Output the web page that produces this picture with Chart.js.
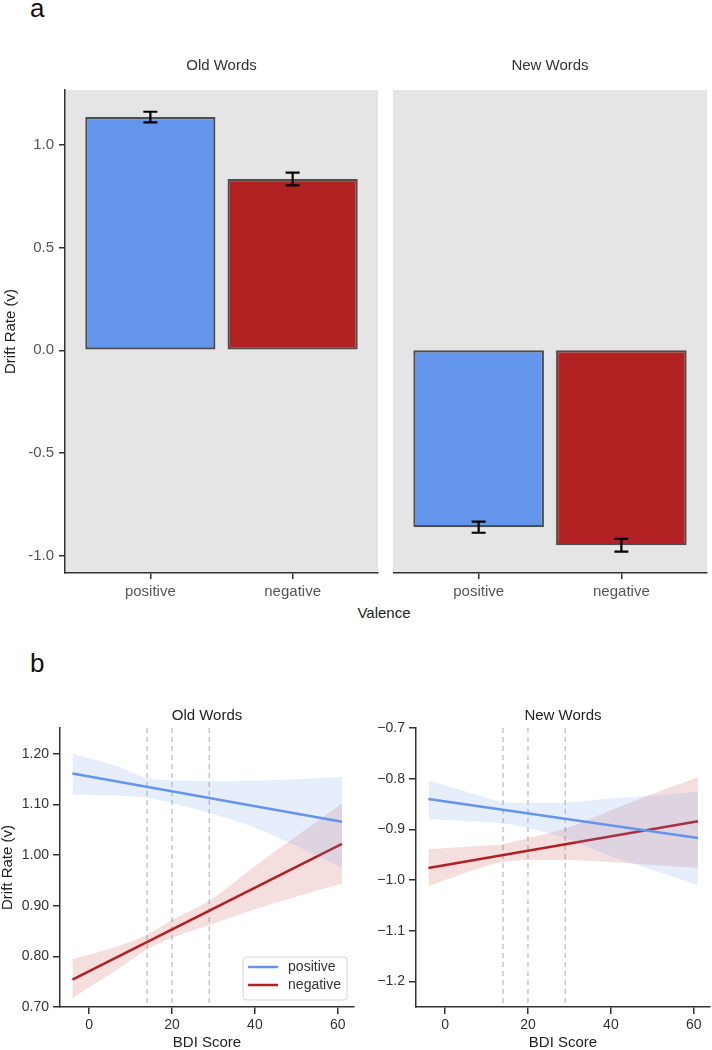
<!DOCTYPE html>
<html>
<head>
<meta charset="utf-8">
<script src="https://cdn.jsdelivr.net/npm/chart.js@4.4.1/dist/chart.umd.min.js"></script>
<style>
  body { margin: 0; background: #fff; width: 712px; height: 1050px; position: relative; overflow: hidden;
         font-family: "Liberation Sans", Arial, sans-serif; }
  .box { position: absolute; }
  .lbl { position: absolute; color: #111; white-space: nowrap; }
</style>
</head>
<body>
<div class="lbl" style="left:30px;top:-7px;font-size:26px;line-height:30px">a</div>
<div class="lbl" style="left:30px;top:648px;font-size:26px;line-height:30px">b</div>
<div class="lbl" style="left:334px;top:604px;width:100px;text-align:center;font-size:15px;line-height:18px;color:#222">Valence</div>

<div class="box" style="left:0;top:57px"><canvas id="oldBars" width="380" height="546"></canvas></div>
<div class="box" style="left:393px;top:57px"><canvas id="newBars" width="316" height="546"></canvas></div>
<div class="box" style="left:0;top:707px"><canvas id="oldBdi" width="360" height="343"></canvas></div>
<div class="box" style="left:360px;top:707px"><canvas id="newBdi" width="352" height="343"></canvas></div>

<script>
// panel a: mean drift rate per valence
const valence = ["positive", "negative"];
const oldDrift = [1.136, 0.834];
const oldErr = [0.026, 0.031];
const newDrift = [-0.862, -0.950];
const newErr = [0.027, 0.031];
const valenceColors = ["#6495ED", "#B22222"];
const bandColors = ["rgba(100,149,237,0.16)", "rgba(178,34,34,0.15)"];
const barYTicks = [-1.0, -0.5, 0.0, 0.5, 1.0];

// panel b: drift rate vs BDI score, regression lines with CI bands
const bdiTicks = [0, 20, 40, 60];
const bdiCutoffs = [14, 20, 29];
const fitX = [-4, 61];
const bandX = [-4, 7, 14, 20, 29, 40, 50, 61];

const oldPosFit = [1.161, 1.066];
const oldPosUpper = [1.200, 1.175, 1.152, 1.148, 1.146, 1.147, 1.150, 1.154];
const oldPosLower = [1.119, 1.117, 1.113, 1.103, 1.083, 1.054, 1.018, 0.975];
const oldNegFit = [0.754, 1.022];
const oldNegUpper = [0.795, 0.820, 0.843, 0.872, 0.910, 0.978, 1.037, 1.102];
const oldNegLower = [0.718, 0.775, 0.814, 0.837, 0.862, 0.893, 0.918, 0.944];
const oldYTicks = [0.70, 0.80, 0.90, 1.00, 1.10, 1.20];

const newPosFit = [-0.840, -0.917];
const newPosUpper = [-0.803, -0.830, -0.846, -0.848, -0.847, -0.839, -0.833, -0.826];
const newPosLower = [-0.880, -0.884, -0.888, -0.897, -0.917, -0.953, -0.980, -1.010];
const newNegFit = [-0.976, -0.884];
const newNegUpper = [-0.939, -0.933, -0.929, -0.917, -0.898, -0.862, -0.830, -0.797];
const newNegLower = [-1.012, -0.980, -0.964, -0.960, -0.960, -0.964, -0.970, -0.976];
const newYTicks = [-1.2, -1.1, -1.0, -0.9, -0.8, -0.7];

const FONT = '"Liberation Sans", Arial, sans-serif';
Chart.defaults.font.family = FONT;
Chart.defaults.animation = false;

const pts = (xs, ys) => xs.map((x, i) => ({ x: x, y: ys[i] }));

const grayBg = {
  id: "grayBg",
  beforeDraw(chart) {
    const { ctx, chartArea: a } = chart;
    ctx.save();
    ctx.fillStyle = "#e5e5e5";
    ctx.fillRect(a.left, a.top, a.right - a.left, a.bottom - a.top);
    ctx.restore();
  }
};

function errorBars(vals, errs) {
  return {
    id: "errorBars",
    afterDatasetsDraw(chart) {
      const { ctx, scales } = chart;
      ctx.save();
      ctx.strokeStyle = "#000";
      ctx.lineWidth = 2.2;
      vals.forEach((v, i) => {
        const x = scales.x.getPixelForValue(i);
        const y1 = scales.y.getPixelForValue(v - errs[i]);
        const y2 = scales.y.getPixelForValue(v + errs[i]);
        ctx.beginPath();
        ctx.moveTo(x, y1); ctx.lineTo(x, y2);
        ctx.moveTo(x - 7, y1); ctx.lineTo(x + 7, y1);
        ctx.moveTo(x - 7, y2); ctx.lineTo(x + 7, y2);
        ctx.stroke();
      });
      ctx.restore();
    }
  };
}

const cutoffLines = {
  id: "cutoffLines",
  beforeDatasetsDraw(chart) {
    const { ctx, chartArea: a, scales } = chart;
    ctx.save();
    ctx.strokeStyle = "#c8c8c8";
    ctx.lineWidth = 1.5;
    ctx.setLineDash([5, 4]);
    bdiCutoffs.forEach(c => {
      const x = scales.x.getPixelForValue(c);
      ctx.beginPath();
      ctx.moveTo(x, a.top); ctx.lineTo(x, a.bottom);
      ctx.stroke();
    });
    ctx.restore();
  }
};

const insideLegend = {
  id: "insideLegend",
  afterDraw(chart) {
    const { ctx, chartArea: a } = chart;
    ctx.save();
    ctx.font = "14px " + FONT;
    const tw = Math.max(...valence.map(v => ctx.measureText(v).width));
    const w = 45 + tw + 6, h = 43;
    const x0 = a.right - 7 - w, y0 = a.bottom - 7 - h;
    ctx.fillStyle = "rgba(255,255,255,0.85)";
    ctx.strokeStyle = "#d6d6d6";
    ctx.lineWidth = 1;
    ctx.beginPath();
    ctx.roundRect(x0, y0, w, h, 3);
    ctx.fill();
    ctx.stroke();
    valence.forEach((v, i) => {
      const y = y0 + 10 + i * 18;
      ctx.strokeStyle = valenceColors[i];
      ctx.lineWidth = 2.5;
      ctx.beginPath();
      ctx.moveTo(x0 + 5, y); ctx.lineTo(x0 + 35, y);
      ctx.stroke();
      ctx.fillStyle = "#333";
      ctx.textBaseline = "middle";
      ctx.fillText(v, x0 + 45, y);
    });
    ctx.restore();
  }
};

function barPanel(id, title, vals, errs, showY) {
  return new Chart(document.getElementById(id), {
    type: "bar",
    data: {
      datasets: [{
        data: pts([0, 1], vals),
        backgroundColor: valenceColors,
        borderColor: "#4d4d4d",
        borderWidth: 2.2,
        borderSkipped: false,
        barPercentage: 0.915,
        categoryPercentage: 1
      }]
    },
    options: {
      responsive: false,
      layout: { padding: { right: 2 } },
      plugins: {
        legend: { display: false },
        tooltip: { enabled: false },
        title: {
          display: true, text: title, fullSize: false, color: "#333",
          font: { size: 15, weight: "normal" }, padding: { top: 0, bottom: 15 }
        }
      },
      scales: {
        x: {
          type: "linear", min: -0.6, max: 1.6, offset: false,
          afterBuildTicks: s => { s.ticks = valence.map((v, i) => ({ value: i })); },
          afterFit: s => { s.height = 30; },
          ticks: { callback: v => valence[v], color: "#555", font: { size: 15 }, padding: 4, maxRotation: 0 },
          grid: { drawOnChartArea: false, offset: false, tickLength: 6, color: "#333", lineWidth: 1.5 },
          border: { color: "#333", width: 1.5 }
        },
        y: {
          display: showY, min: -1.085, max: 1.268,
          afterBuildTicks: s => { s.ticks = barYTicks.map(v => ({ value: v })); },
          afterFit: s => { s.width = showY ? 65 : 0; },
          ticks: { callback: v => v.toFixed(1), color: "#555", font: { size: 15 }, padding: 5 },
          grid: { drawOnChartArea: false, tickLength: 6, color: "#333", lineWidth: 1.5 },
          border: { color: "#333", width: 1.5 },
          title: { display: true, text: "Drift Rate (v)", color: "#222", font: { size: 15 }, padding: { top: 2, bottom: 0 } }
        }
      }
    },
    plugins: [grayBg, errorBars(vals, errs)]
  });
}

function regDatasets(upper, lower, fit, i) {
  return [
    { label: valence[i] + " ci", data: pts(bandX, upper), borderWidth: 0, pointRadius: 0,
      fill: "+1", backgroundColor: bandColors[i], cubicInterpolationMode: "monotone" },
    { label: valence[i] + " ci low", data: pts(bandX, lower), borderWidth: 0, pointRadius: 0,
      fill: false, cubicInterpolationMode: "monotone" },
    { label: valence[i], data: pts(fitX, fit), borderColor: valenceColors[i], borderWidth: 2.6,
      pointRadius: 0, fill: false }
  ];
}

const minus = v => v.replace("-", "\u2212");

function bdiPanel(id, title, sets, yTicks, yMin, yMax, yFmt, yWidth, showTitle, extra) {
  return new Chart(document.getElementById(id), {
    type: "line",
    data: { datasets: sets },
    options: {
      responsive: false,
      layout: { padding: { right: id === "oldBdi" ? 6 : 2 } },
      plugins: {
        legend: { display: false },
        tooltip: { enabled: false },
        title: {
          display: true, text: title, fullSize: false, color: "#222",
          font: { size: 15, weight: "normal" }, padding: { top: 0, bottom: 3 }
        }
      },
      scales: {
        x: {
          type: "linear", min: -7, max: 63.9,
          afterBuildTicks: s => { s.ticks = bdiTicks.map(v => ({ value: v })); },
          afterFit: s => { s.height = 43; },
          ticks: { color: "#333", font: { size: 14 }, padding: 3, maxRotation: 0 },
          grid: { drawOnChartArea: false, tickLength: 7, color: "#333", lineWidth: 1.5 },
          border: { color: "#333", width: 1.5 },
          title: { display: true, text: "BDI Score", color: "#222", font: { size: 15, lineHeight: 1 }, padding: { top: 0, bottom: 0 } }
        },
        y: {
          type: "linear", min: yMin, max: yMax,
          afterBuildTicks: s => { s.ticks = yTicks.map(v => ({ value: v })); },
          afterFit: s => { s.width = yWidth; },
          ticks: { callback: yFmt, color: "#333", font: { size: 14 }, padding: 4 },
          grid: { drawOnChartArea: false, tickLength: 7, color: "#333", lineWidth: 1.5 },
          border: { color: "#333", width: 1.5 },
          title: { display: showTitle, text: "Drift Rate (v)", color: "#222", font: { size: 15, lineHeight: 1 }, padding: { top: 0, bottom: 0 } }
        }
      }
    },
    plugins: [cutoffLines].concat(extra)
  });
}

barPanel("oldBars", "Old Words", oldDrift, oldErr, true);
barPanel("newBars", "New Words", newDrift, newErr, false);

bdiPanel("oldBdi", "Old Words",
  regDatasets(oldPosUpper, oldPosLower, oldPosFit, 0).concat(regDatasets(oldNegUpper, oldNegLower, oldNegFit, 1)),
  oldYTicks, 0.70, 1.251, v => v.toFixed(2), 60, true, [insideLegend]);

bdiPanel("newBdi", "New Words",
  regDatasets(newPosUpper, newPosLower, newPosFit, 0).concat(regDatasets(newNegUpper, newNegLower, newNegFit, 1)),
  newYTicks, -1.25, -0.70, v => minus(v.toFixed(1)), 56, false, []);
</script>
</body>
</html>
